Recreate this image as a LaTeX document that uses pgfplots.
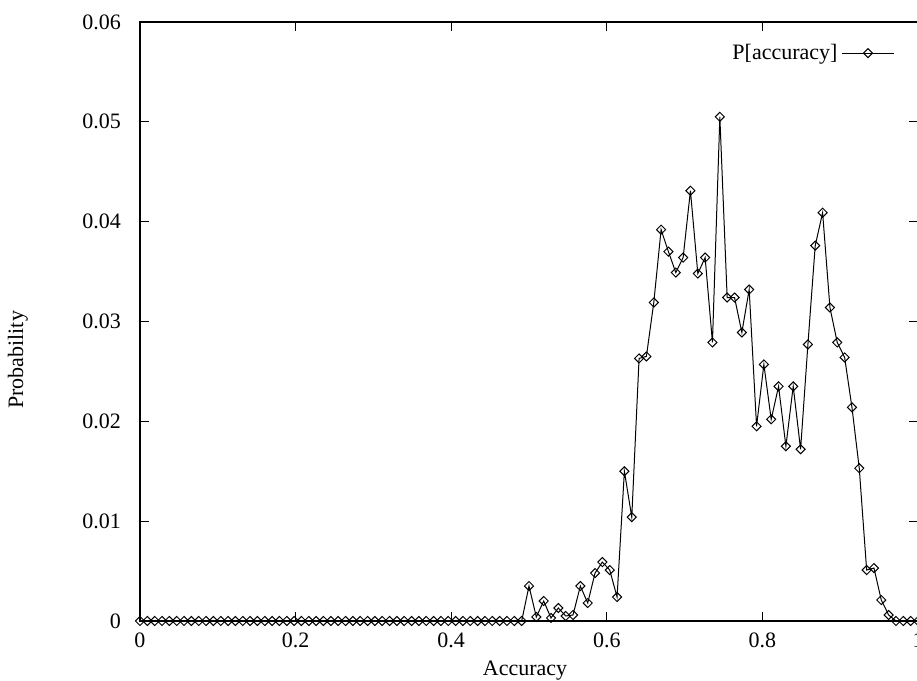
\documentclass[border=0pt]{standalone}
\usepackage{fontspec}
\setmainfont{Liberation Serif}
\usepackage{pgfplots}
\pgfplotsset{compat=1.18}

\begin{document}
\begin{tikzpicture}
\begin{axis}[
    name=ax,
    scale only axis,
    width=389pt, height=299.5pt,
    xmin=0, xmax=1,
    ymin=0, ymax=0.06,
    xtick={0,0.2,0.4,0.6,0.8,1},
    ytick={0,0.01,0.02,0.03,0.04,0.05,0.06},
    scaled y ticks=false,
    yticklabel style={/pgf/number format/fixed, /pgf/number format/precision=2, xshift=-6pt},
    xticklabel style={/pgf/number format/fixed, yshift=-2.5pt},
    /pgf/number format/assume math mode=true,
    tick align=inside,
    major tick length=4.5pt,
    tick style={black, line width=0.5pt},
    axis line style={line width=0.8pt},
    font=\fontsize{11}{13}\selectfont,
    xlabel={Accuracy},
    ylabel={Probability},
    xlabel style={at={(axis description cs:0.495,-0.083)}, anchor=center},
    ylabel style={at={(axis description cs:-0.157,0.436)}, anchor=center},
    clip=false,
    legend plot pos=right,
    legend cell align=right,
    legend style={at={(axis description cs:0.978,0.948)}, anchor=east,
        draw=none, fill=none, font=\fontsize{11}{13}\selectfont},
    legend image code/.code={
        \draw[mark repeat=2,mark phase=2,#1]
            plot coordinates {(0pt,0pt) (13pt,0pt) (26pt,0pt)};
    },
]
\addplot[black, line width=0.5pt, mark=square, mark size=1.6pt,
    mark options={rotate=45, solid, line width=0.5pt}] coordinates {
    (0.0000,0) (0.0094,0) (0.0189,0) (0.0283,0) (0.0377,0) (0.0472,0)
    (0.0566,0) (0.0660,0) (0.0755,0) (0.0849,0) (0.0943,0) (0.1038,0)
    (0.1132,0) (0.1226,0) (0.1321,0) (0.1415,0) (0.1509,0) (0.1604,0)
    (0.1698,0) (0.1792,0) (0.1887,0) (0.1981,0) (0.2075,0) (0.2170,0)
    (0.2264,0) (0.2358,0) (0.2453,0) (0.2547,0) (0.2642,0) (0.2736,0)
    (0.2830,0) (0.2925,0) (0.3019,0) (0.3113,0) (0.3208,0) (0.3302,0)
    (0.3396,0) (0.3491,0) (0.3585,0) (0.3679,0) (0.3774,0) (0.3868,0)
    (0.3962,0) (0.4057,0) (0.4151,0) (0.4245,0) (0.4340,0) (0.4434,0)
    (0.4528,0) (0.4623,0) (0.4717,0) (0.4811,0) (0.4906,0)
    (0.5000,0.0035) (0.5094,0.0004) (0.5189,0.0020) (0.5283,0.0003)
    (0.5377,0.0013) (0.5472,0.0005) (0.5566,0.0006) (0.5660,0.0035)
    (0.5755,0.0018) (0.5849,0.0048) (0.5943,0.0059) (0.6038,0.0051)
    (0.6132,0.0024) (0.6226,0.0150) (0.6321,0.0104) (0.6415,0.0263)
    (0.6509,0.0265) (0.6604,0.0319) (0.6698,0.0392) (0.6792,0.0370)
    (0.6887,0.0349) (0.6981,0.0364) (0.7075,0.0431) (0.7170,0.0348)
    (0.7264,0.0364) (0.7358,0.0279) (0.7453,0.0505) (0.7547,0.0324)
    (0.7642,0.0324) (0.7736,0.0289) (0.7830,0.0332) (0.7925,0.0195)
    (0.8019,0.0257) (0.8113,0.0202) (0.8208,0.0235) (0.8302,0.0175)
    (0.8396,0.0235) (0.8491,0.0172) (0.8585,0.0277) (0.8679,0.0376)
    (0.8774,0.0409) (0.8868,0.0314) (0.8962,0.0279) (0.9057,0.0264)
    (0.9151,0.0214) (0.9245,0.0153) (0.9340,0.0051) (0.9434,0.0053)
    (0.9528,0.0021) (0.9623,0.0006) (0.9717,0) (0.9811,0) (0.9906,0)
    (1.0000,0)
};
\addlegendentry{P[accuracy]}
\end{axis}
\pgfresetboundingbox
\useasboundingbox ([xshift=-70pt,yshift=-30pt]ax.south west)
    rectangle ([xshift=-0.5pt,yshift=11pt]ax.north east);
\end{tikzpicture}
\end{document}
